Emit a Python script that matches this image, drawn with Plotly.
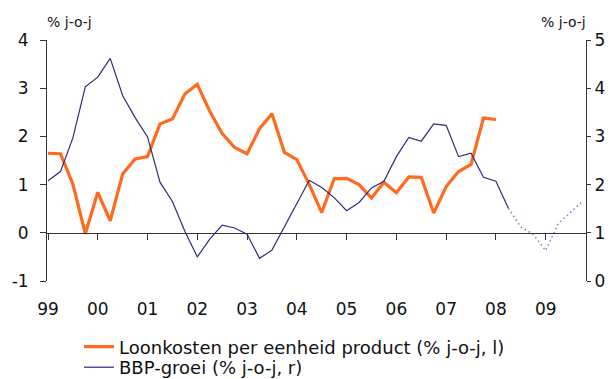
import plotly.graph_objects as go

# Quarterly observations, 1999Q1 .. 2009Q4 (x position = year + quarter offset)
start_year = 1999
year_ticks = list(range(1999, 2010))
year_labels = ["99", "00", "01", "02", "03", "04", "05", "06", "07", "08", "09"]
left_ticks = [-1, 0, 1, 2, 3, 4]
left_labels = ["-1", "0", "1", "2", "3", "4"]
right_ticks = [0, 1, 2, 3, 4, 5]
right_labels = ["0", "1", "2", "3", "4", "5"]

# Unit labour costs, % y-o-y (left axis), 1999Q1 .. 2008Q1
loonkosten = [1.65, 1.64, 1.01, -0.02, 0.84, 0.25, 1.22, 1.53, 1.58, 2.26,
              2.36, 2.88, 3.08, 2.52, 2.06, 1.77, 1.64, 2.16, 2.47, 1.67,
              1.52, 1.00, 0.42, 1.12, 1.13, 1.00, 0.72, 1.05, 0.83, 1.16,
              1.15, 0.41, 0.96, 1.27, 1.42, 2.38, 2.35]

# GDP growth, % y-o-y (right axis); realised up to 2008Q2, forecast afterwards
bbp_realised = [2.08, 2.27, 2.97, 4.03, 4.23, 4.62, 3.85, 3.39, 2.99, 2.05,
                1.65, 1.03, 0.50, 0.87, 1.16, 1.10, 0.97, 0.47, 0.64, 1.12,
                1.60, 2.09, 1.94, 1.73, 1.46, 1.63, 1.93, 2.07, 2.58, 2.98,
                2.90, 3.26, 3.23, 2.58, 2.65, 2.15, 2.07, 1.51]
bbp_forecast = [1.51, 1.12, 0.97, 0.63, 1.19, 1.42, 1.66]


def quarter_x(first_index, n):
    return [start_year + (first_index + k) / 4 for k in range(n)]


x_loon = quarter_x(0, len(loonkosten))
x_bbp = quarter_x(0, len(bbp_realised))
x_fc = quarter_x(len(bbp_realised) - 1, len(bbp_forecast))

ORANGE = "#ff6a1e"
NAVY = "#2b2b88"
LIGHT_NAVY = "#7f7fcc"
AXIS = "#333333"
FONT = "DejaVu Sans"

fig = go.Figure()

fig.add_trace(go.Scatter(
    x=x_loon, y=loonkosten, mode="lines",
    name="Loonkosten per eenheid product (% j-o-j, l)",
    line=dict(color=ORANGE, width=3.2),
    yaxis="y", legend="legend",
))
fig.add_trace(go.Scatter(
    x=x_bbp, y=bbp_realised, mode="lines",
    name="BBP-groei (% j-o-j, r)",
    line=dict(color=NAVY, width=1.2),
    yaxis="y2", legend="legend2",
))
fig.add_trace(go.Scatter(
    x=x_fc, y=bbp_forecast, mode="lines", showlegend=False,
    line=dict(color=LIGHT_NAVY, width=1.5, dash="1.5px,3px"),
    yaxis="y2",
))

legend_style = dict(
    xref="container", yref="container", xanchor="left", yanchor="middle",
    font=dict(size=18, family=FONT, color="#111111"),
    bgcolor="rgba(0,0,0,0)", borderwidth=0,
)

fig.update_layout(
    width=613, height=379,
    margin=dict(l=47, r=27, t=40, b=98, autoexpand=False),
    paper_bgcolor="white", plot_bgcolor="white",
    font=dict(family=FONT, color="#111111"),
    # the x axis sits on the zero line; its labels hang below the frame
    xaxis=dict(
        range=[1998.98, 2009.81], tickvals=year_ticks, ticktext=year_labels,
        anchor="free", position=0.2, automargin=False,
        showgrid=False, zeroline=False, showline=True,
        linecolor=AXIS, linewidth=1,
        ticks="outside", ticklen=6, tickcolor=AXIS, tickwidth=1,
        ticklabelstandoff=55,
        tickfont=dict(size=17, family=FONT),
    ),
    yaxis=dict(
        range=[-1, 4], tickvals=left_ticks, ticktext=left_labels,
        automargin=False,
        showgrid=False, zeroline=False, showline=True,
        linecolor=AXIS, linewidth=1,
        ticks="outside", ticklen=6, tickcolor=AXIS,
        ticklabelstandoff=8,
        tickfont=dict(size=17, family=FONT),
    ),
    yaxis2=dict(
        range=[0, 5], tickvals=right_ticks, ticktext=right_labels,
        overlaying="y", side="right", automargin=False,
        showgrid=False, zeroline=False, showline=True,
        linecolor=AXIS, linewidth=1,
        ticks="outside", ticklen=4, tickcolor=AXIS,
        tickfont=dict(size=17, family=FONT),
    ),
    legend=dict(x=79 / 613, y=(379 - 347) / 379, **legend_style),
    legend2=dict(x=79 / 613, y=(379 - 367.5) / 379, **legend_style),
    annotations=[
        dict(text="% j-o-j", xref="paper", yref="paper", x=0.041, y=1.075,
             xanchor="center", yanchor="middle", showarrow=False,
             font=dict(size=14, family=FONT)),
        dict(text="% j-o-j", xref="paper", yref="paper", x=0.959, y=1.075,
             xanchor="center", yanchor="middle", showarrow=False,
             font=dict(size=14, family=FONT)),
    ],
)

fig.write_html("out.html")
